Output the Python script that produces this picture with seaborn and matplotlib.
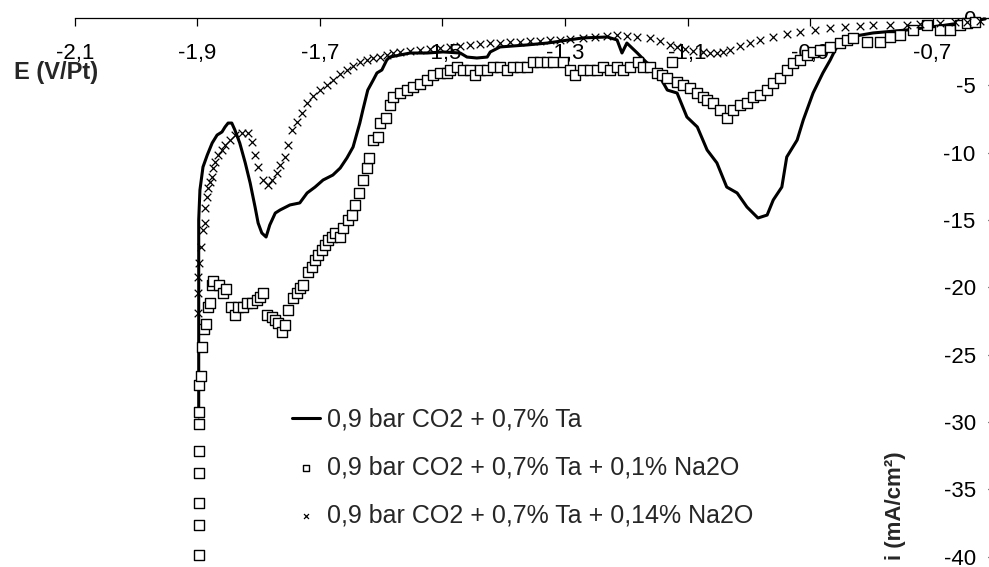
import matplotlib
matplotlib.use("Agg")
import matplotlib.pyplot as plt
import seaborn as sns

# ------------------------------------------------------------
# data (E in V/Pt, i in mA/cm2)
# ------------------------------------------------------------
ta_E = [-1.898, -1.898, -1.898, -1.896, -1.891, -1.884, -1.876, -1.868, -1.860, -1.855,
        -1.850, -1.844, -1.839, -1.831, -1.822, -1.814, -1.806, -1.801, -1.795, -1.788,
        -1.782, -1.773, -1.765, -1.749, -1.733, -1.721, -1.708, -1.695, -1.679, -1.667,
        -1.656, -1.646, -1.635, -1.630, -1.622, -1.613, -1.607, -1.599, -1.591, -1.586,
        -1.553, -1.525, -1.499, -1.471, -1.460, -1.444, -1.427, -1.422, -1.406, -1.362,
        -1.329, -1.271, -1.231, -1.215, -1.207, -1.199, -1.182, -1.166, -1.156, -1.145,
        -1.133, -1.117, -1.101, -1.084, -1.068, -1.052, -1.036, -1.019, -1.003, -0.985,
        -0.970, -0.960, -0.946, -0.938, -0.921, -0.911, -0.895, -0.879, -0.867, -0.859,
        -0.851, -0.835, -0.797, -0.742, -0.688, -0.644, -0.614]
ta_i = [-29.62, -20.94, -15.00, -12.77, -11.06, -10.17, -9.28, -8.69, -8.46, -8.09,
        -7.80, -7.80, -8.31, -9.28, -10.76, -12.25, -14.03, -15.22, -15.96, -16.26,
        -15.37, -14.48, -14.25, -13.88, -13.73, -12.99, -12.55, -12.03, -11.66, -11.14,
        -10.39, -9.58, -7.80, -6.83, -5.35, -4.60, -4.08, -3.86, -3.12, -2.90,
        -2.60, -2.60, -2.52, -2.60, -2.90, -2.97, -2.90, -2.52, -2.15, -2.00,
        -1.86, -1.48, -1.41, -1.63, -2.60, -1.86, -2.60, -3.34, -3.86, -4.38,
        -5.35, -5.57, -7.35, -8.09, -9.80, -10.76, -12.55, -12.99, -14.03, -14.85,
        -14.63, -13.51, -12.55, -10.32, -9.06, -7.57, -5.57, -4.08, -3.12, -2.38,
        -1.78, -1.41, -1.11, -0.89, -0.59, -0.30, -0.07]

na01_E = [-1.898, -1.898, -1.898, -1.898, -1.898, -1.898, -1.898, -1.898, -1.894, -1.893,
          -1.889, -1.886, -1.883, -1.880, -1.876, -1.875, -1.865, -1.858, -1.853, -1.845,
          -1.839, -1.834, -1.826, -1.819, -1.811, -1.803, -1.798, -1.793, -1.787, -1.778,
          -1.773, -1.769, -1.762, -1.757, -1.752, -1.744, -1.738, -1.733, -1.728, -1.720,
          -1.713, -1.708, -1.703, -1.697, -1.692, -1.687, -1.680, -1.676, -1.667, -1.662,
          -1.654, -1.648, -1.643, -1.636, -1.630, -1.623, -1.620, -1.613, -1.605, -1.602,
          -1.592, -1.586, -1.581, -1.569, -1.558, -1.548, -1.537, -1.525, -1.516, -1.504,
          -1.493, -1.488, -1.476, -1.467, -1.455, -1.447, -1.439, -1.427, -1.418, -1.406,
          -1.395, -1.385, -1.373, -1.362, -1.352, -1.341, -1.329, -1.320, -1.303, -1.292,
          -1.284, -1.271, -1.259, -1.248, -1.238, -1.227, -1.215, -1.205, -1.194, -1.181,
          -1.173, -1.161, -1.150, -1.142, -1.133, -1.125, -1.117, -1.107, -1.096, -1.084,
          -1.075, -1.068, -1.058, -1.047, -1.036, -1.026, -1.014, -1.003, -0.993, -0.982,
          -0.970, -0.960, -0.949, -0.938, -0.928, -0.916, -0.905, -0.895, -0.884, -0.867,
          -0.851, -0.840, -0.830, -0.807, -0.786, -0.769, -0.753, -0.732, -0.709, -0.688,
          -0.671, -0.655, -0.644, -0.631]
na01_i = [-39.87, -37.64, -36.01, -33.78, -32.15, -30.14, -29.25, -27.25, -26.58, -24.42,
          -23.09, -22.72, -21.46, -21.16, -19.82, -19.53, -19.82, -20.42, -20.12, -21.46,
          -22.05, -21.46, -21.46, -21.16, -21.16, -20.94, -20.71, -20.42, -22.05, -22.20,
          -22.42, -22.64, -23.31, -22.79, -21.68, -20.79, -20.42, -20.04, -19.82, -18.86,
          -18.49, -17.97, -17.59, -17.22, -16.85, -16.48, -16.26, -15.96, -16.26, -15.59,
          -15.00, -14.63, -13.88, -12.99, -12.03, -11.14, -10.39, -9.06, -8.83, -7.80,
          -7.42, -6.46, -5.86, -5.57, -5.35, -5.12, -4.90, -4.60, -4.23, -4.08,
          -4.08, -3.86, -3.64, -3.86, -3.86, -4.23, -3.86, -3.86, -3.64, -3.64,
          -3.86, -3.64, -3.64, -3.64, -3.27, -3.27, -3.27, -3.27, -3.27, -3.86,
          -4.23, -3.86, -3.86, -3.86, -3.64, -3.86, -3.64, -3.86, -3.64, -3.27,
          -3.64, -3.64, -4.08, -4.23, -4.45, -3.27, -4.75, -4.97, -5.20, -5.57,
          -5.86, -6.09, -6.31, -6.83, -7.42, -6.83, -6.46, -6.31, -5.86, -5.72,
          -5.35, -4.83, -4.45, -3.86, -3.34, -3.12, -2.75, -2.52, -2.38, -2.15,
          -1.86, -1.63, -1.48, -1.78, -1.78, -1.41, -1.26, -0.89, -0.52, -0.89,
          -0.89, -0.52, -0.37, -0.30]

na014_E = [-1.899, -1.899, -1.899, -1.898, -1.894, -1.891, -1.888, -1.888, -1.884, -1.883,
           -1.880, -1.876, -1.875, -1.871, -1.867, -1.860, -1.855, -1.847, -1.839, -1.827,
           -1.818, -1.811, -1.806, -1.801, -1.793, -1.785, -1.778, -1.770, -1.765, -1.757,
           -1.752, -1.746, -1.738, -1.729, -1.721, -1.711, -1.700, -1.689, -1.679, -1.667,
           -1.656, -1.646, -1.635, -1.623, -1.613, -1.602, -1.591, -1.581, -1.569, -1.553,
           -1.537, -1.520, -1.504, -1.488, -1.471, -1.455, -1.439, -1.422, -1.406, -1.390,
           -1.373, -1.357, -1.341, -1.324, -1.308, -1.292, -1.271, -1.251, -1.231, -1.215,
           -1.199, -1.182, -1.161, -1.145, -1.129, -1.117, -1.104, -1.091, -1.075, -1.063,
           -1.052, -1.042, -1.031, -1.014, -0.998, -0.982, -0.960, -0.938, -0.916, -0.892,
           -0.867, -0.843, -0.818, -0.797, -0.769, -0.742, -0.720, -0.688, -0.663, -0.644,
           -0.622]
na014_i = [-21.90, -20.42, -19.23, -18.19, -17.00, -15.74, -15.22, -14.11, -13.29, -12.62,
           -12.18, -11.80, -11.14, -10.69, -10.17, -9.80, -9.43, -9.06, -8.69, -8.54,
           -8.54, -9.21, -10.17, -11.06, -12.03, -12.40, -12.03, -11.51, -10.91, -10.32,
           -9.43, -8.31, -7.72, -7.05, -6.31, -5.79, -5.35, -4.97, -4.60, -4.16,
           -3.86, -3.56, -3.27, -3.12, -2.97, -2.90, -2.75, -2.60, -2.52, -2.45,
           -2.38, -2.30, -2.23, -2.15, -2.08, -2.00, -1.93, -1.86, -1.86, -1.78,
           -1.78, -1.71, -1.71, -1.63, -1.63, -1.56, -1.48, -1.41, -1.34, -1.26,
           -1.34, -1.41, -1.48, -1.71, -2.00, -2.15, -2.30, -2.45, -2.52, -2.60,
           -2.60, -2.52, -2.38, -2.08, -1.86, -1.63, -1.41, -1.19, -1.04, -0.89,
           -0.74, -0.67, -0.59, -0.52, -0.52, -0.52, -0.45, -0.37, -0.30, -0.30,
           -0.22]

series_labels = ["0,9 bar CO2 + 0,7% Ta",
                 "0,9 bar CO2 + 0,7% Ta + 0,1% Na2O",
                 "0,9 bar CO2 + 0,7% Ta + 0,14% Na2O"]

x_ticks = [-2.1, -1.9, -1.7, -1.5, -1.3, -1.1, -0.9, -0.7]
x_tick_labels = ["-2,1", "-1,9", "-1,7", "-1,5", "-1,3", "-1,1", "-0,9", "-0,7"]
y_ticks = [0, -5, -10, -15, -20, -25, -30, -35, -40]
y_tick_labels = ["0", "-5", "-10", "-15", "-20", "-25", "-30", "-35", "-40"]

# ------------------------------------------------------------
# style
# ------------------------------------------------------------
sns.set_theme(style="white")
plt.rcParams["font.family"] = ["Liberation Sans", "DejaVu Sans"]
plt.rcParams["axes.unicode_minus"] = False

fig = plt.figure(figsize=(9.89, 5.67), dpi=100)
ax = fig.add_axes([0, 0, 1, 1])

# data drawn above the tick labels, as in the original export
sns.lineplot(x=ta_E, y=ta_i, sort=False, estimator=None, color="black",
             linewidth=2.2, label=series_labels[0], ax=ax, zorder=3)
sns.scatterplot(x=na01_E, y=na01_i, marker="s", s=56, facecolor="white",
                edgecolor="black", linewidth=1.0, label=series_labels[1],
                ax=ax, zorder=3)
sns.scatterplot(x=na014_E, y=na014_i, marker="x", s=30, color="black",
                linewidth=0.9, label=series_labels[2], ax=ax, zorder=3)

# axes: x axis drawn at i = 0, y axis at E = -0.6 (right edge)
ax.set_xlim(-2.2224, -0.6078)
ax.set_ylim(-40.76, 1.336)
ax.spines["top"].set_visible(False)
ax.spines["right"].set_visible(False)
ax.spines["bottom"].set_position(("data", 0))
ax.spines["bottom"].set_bounds(-2.1, -0.6)
ax.spines["left"].set_position(("data", -0.6))
for sp in ("bottom", "left"):
    ax.spines[sp].set_color("black")
    ax.spines[sp].set_linewidth(0.9)

ax.set_xticks(x_ticks)
ax.set_xticklabels(x_tick_labels)
ax.set_yticks(y_ticks)
ax.set_yticklabels(y_tick_labels)
ax.tick_params(axis="x", direction="out", length=6, width=0.9, pad=12,
               labelsize=16, colors="black", bottom=True)
ax.tick_params(axis="y", direction="out", length=4, width=0.9, pad=9,
               labelsize=16, colors="black", left=True)
ax.set_xlabel("")
ax.set_ylabel("")
ax.grid(False)

ax.text(0.0566, 0.872, "E (V/Pt)", transform=ax.transAxes, ha="center",
        va="center", fontsize=17, fontweight="bold")
ax.text(0.905, 0.1076, "i (mA/cm²)", transform=ax.transAxes, ha="center",
        va="center", fontsize=16, fontweight="bold", rotation=90)

ax.legend(loc="upper left", bbox_to_anchor=(0.2952, 0.281), frameon=False,
          fontsize=18, handlelength=1.12, handletextpad=0.28, labelspacing=0.95,
          markerscale=0.65, borderpad=0, borderaxespad=0)

fig.savefig("out.png", dpi=100)
